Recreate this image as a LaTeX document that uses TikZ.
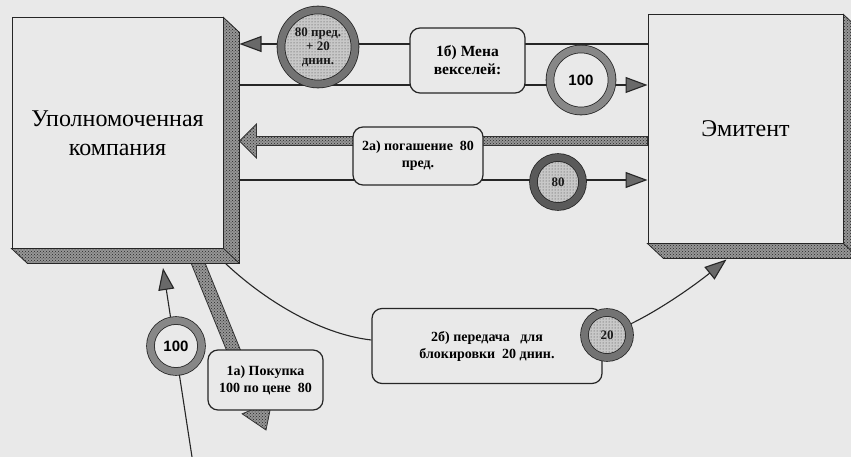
\documentclass[tikz,border=0pt]{standalone}
\usepackage{fontspec}
\setmainfont{Liberation Serif}
\newfontfamily\numfont{Liberation Sans}
\usetikzlibrary{arrows.meta,patterns,calc}
\definecolor{bgc}{RGB}{233,233,233}
\definecolor{agray}{RGB}{105,105,105}
\definecolor{ringg}{RGB}{135,135,135}
\definecolor{ringd}{RGB}{90,90,90}
\definecolor{ringm}{RGB}{115,115,115}
\definecolor{extrbase}{RGB}{150,150,150}
\definecolor{dotbase}{RGB}{200,200,200}
\pgfdeclarelayer{back}\pgfdeclarelayer{lines}\pgfsetlayers{back,lines,main}
\newcommand\fatarr[5]{%
  \coordinate (fab) at ($(#2)!#5!(#1)$);
  \path[fatstyle] ($(#1)!#3!90:(#2)$) -- ($(fab)!#3!90:(#2)$) -- ($(fab)!#4!90:(#2)$) -- (#2)
    -- ($(fab)!#4!-90:(#2)$) -- ($(fab)!#3!-90:(#2)$) -- ($(#1)!#3!-90:(#2)$) -- cycle;}
\begin{document}
\begin{tikzpicture}[x=1pt,y=-1pt,
  >={Triangle[length=22pt,width=16pt,fill=agray]},
  frontbox/.style={draw=black!85,line width=1pt,fill=bgc,inner sep=0pt,align=center,font=\fontsize{24}{29}\selectfont},
  extr/.style={draw=black!85,line width=0.8pt,preaction={fill=extrbase},pattern=crosshatch dots,pattern color=black!85},
  edge3d/.style={draw=black!85,line width=0.8pt},
  conn/.style={draw=black!85,line width=1.1pt},
  fatstyle/.style={draw=black!80,line width=0.8pt,preaction={fill=extrbase},pattern=crosshatch dots,pattern color=black!85},
  lab/.style={draw=black!85,line width=1.2pt,fill=bgc,rounded corners=10pt,inner sep=0pt,align=center,font=\bfseries\fontsize{14}{17}\selectfont},
  ringw/.style={circle,inner sep=0pt,draw=black!85,line width=0.8pt,double=ringg,double distance=7pt,fill=bgc,font=\numfont\bfseries\fontsize{15}{17}\selectfont},
  ringp/.style={circle,inner sep=0pt,draw=black!85,line width=0.8pt,double=ringm,double distance=7pt,preaction={fill=dotbase},pattern=dots,pattern color=black!75,text=black!90,align=center,font=\bfseries\fontsize{13}{14}\selectfont}
]
\begin{pgfonlayer}{back}
\fill[bgc] (0,0) rectangle (851,457);
\end{pgfonlayer}
\useasboundingbox (0,0) rectangle (851,457);

% boxes
\node[frontbox,minimum width=211pt,minimum height=230pt] (uk) at (117.5,133) {Уполномоченная\\компания};
\node[frontbox,minimum width=195pt,minimum height=228pt] (ek) at (745.5,129) {Эмитент};
\path[extr] (uk.north east) -- ++(16,15) -- ($(uk.south east)+(16,15)$) -- ($(uk.south west)+(16,15)$) -- (uk.south west) -- (uk.south east) -- cycle;
\draw[edge3d] (uk.south east) -- ++(16,15);
\path[extr] (ek.north east) -- ++(16,15) -- ($(ek.south east)+(16,15)$) -- ($(ek.south west)+(16,15)$) -- (ek.south west) -- (ek.south east) -- cycle;
\draw[edge3d] (ek.south east) -- ++(16,15);

% labels
\node[lab,font=\bfseries\fontsize{15.5}{18}\selectfont,minimum width=115pt,minimum height=65pt] (lb1b) at (467.5,60.5) {1б) Мена\\векселей:};
\node[lab,minimum width=130pt,minimum height=58pt] (lb2a) at (418,156) {2а) погашение\ \ 80\\пред.};
\node[lab,minimum width=230pt,minimum height=75pt] (lb2b) at (487,346) {2б) передача\ \ \ для\\блокировки\ \ 20 днин.};
\node[lab,minimum width=115pt,minimum height=60pt] (lb1a) at (265.5,380) {1а) Покупка\\100 по цене\ \ 80};

% circles
\node[ringp,minimum size=74pt] (c80p) at (318,47) {80 пред.\\+ 20\\днин.};
\node[ringw,minimum size=62pt] (c100t) at (581,80) {100};
\node[ringp,double=ringd,minimum size=49pt] (c80) at (558,182) {80};
\node[ringp,minimum size=45pt] (c20) at (607,335) {20};
\node[ringw,minimum size=51pt] (c100b) at (176,346) {100};

% connectors
\coordinate (ukout) at ($(uk.east)+(16,0)$);
\coordinate (f2s) at (ek.west |- 0,141);
\coordinate (f2t) at (ukout |- 0,141);
\coordinate (f1s) at (196,258);
\coordinate (f1t) at (266,430);
\coordinate (c2s) at (225,263);
\coordinate (ekb) at ($(ek.south west)+(79,16)$);
\coordinate (vb) at (192,457);
\coordinate (vt) at (163,268);
\begin{pgfonlayer}{lines}
\draw[conn,->] (ek.west |- 0,44) -- (ukout |- 0,44);
\draw[conn,->] (ukout |- 0,85) -- (ek.west |- 0,85);
\fatarr{f2s}{f2t}{4.5pt}{17pt}{17pt}
\draw[conn,->] (ukout |- 0,180) -- (ek.west |- 0,180);
\draw[conn] (c2s) .. controls (262,298) and (318,334) .. (lb2b.west |- 0,340);
\draw[conn,->] (c20.25) .. controls (660,310) and (695,285) .. (ekb);
\draw[conn,->] (vb) -- (vt);
\fatarr{f1s}{f1t}{6.5pt}{16pt}{24pt}
\end{pgfonlayer}
\end{tikzpicture}
\end{document}
